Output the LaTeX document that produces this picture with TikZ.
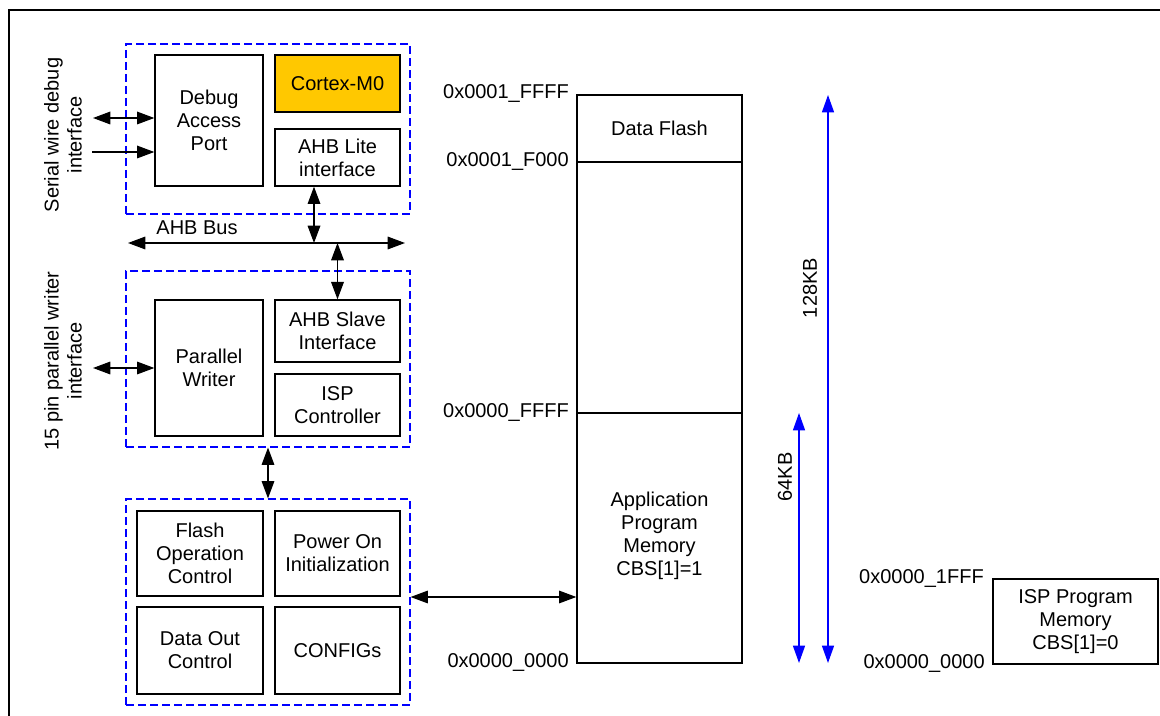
\documentclass[tikz,border=0pt]{standalone}
\usepackage{fontspec}
\setmainfont{Liberation Sans}
\usetikzlibrary{arrows.meta,calc}
\definecolor{cortexgold}{RGB}{255,200,0}
\definecolor{dashblue}{RGB}{0,0,255}
\begin{document}
\begin{tikzpicture}[x=0.75pt,y=-0.75pt,
  every node/.style={font=\fontsize{15}{17.25}\selectfont, align=center, inner sep=0pt},
  blk/.style={draw=black, line width=1pt},
  grp/.style={draw=dashblue, line width=0.9pt, dash pattern=on 6pt off 3pt},
  dbl/.style={line width=0.9pt, {Triangle[length=13pt,width=9.5pt]}-{Triangle[length=13pt,width=9.5pt]}},
  sgl/.style={line width=0.9pt, -{Triangle[length=13pt,width=9.5pt]}},
  bdbl/.style={dashblue, line width=1pt, {Triangle[length=13pt,width=9pt]}-{Triangle[length=13pt,width=9pt]}},
  lbl/.style={anchor=east}
]
\useasboundingbox (0,0) rectangle (1160,716);
% outer frame
\draw[line width=1.8pt] (9,717) -- (9,10) -- (1161,10);

% group 1
\node[grp, minimum width=0.75*284pt, minimum height=0.75*170pt] (g1) at (268,129) {};
\node[blk, minimum width=0.75*108pt, minimum height=0.75*131pt] (dap) at (209,120.5) {Debug\\Access\\Port};
\node[blk, fill=cortexgold, minimum width=0.75*125pt, minimum height=0.75*57pt] (cortex) at (337.5,83.5) {Cortex-M0};
\node[blk, minimum width=0.75*125pt, minimum height=0.75*57pt] (ahblite) at (337.5,157.5) {AHB Lite\\interface};

% group 2
\node[grp, minimum width=0.75*284pt, minimum height=0.75*176pt] (g2) at (268,359) {};
\node[blk, minimum width=0.75*108pt, minimum height=0.75*136pt] (pw) at (209,368) {Parallel\\Writer};
\node[blk, minimum width=0.75*125pt, minimum height=0.75*62pt] (ahbslave) at (337.5,331) {AHB Slave\\Interface};
\node[blk, minimum width=0.75*125pt, minimum height=0.75*62pt] (ispc) at (337.5,405) {ISP\\Controller};

% group 3
\node[grp, minimum width=0.75*284pt, minimum height=0.75*206pt] (g3) at (268,602) {};
\node[blk, minimum width=0.75*126pt, minimum height=0.75*85pt] (foc) at (200,553.5) {Flash\\Operation\\Control};
\node[blk, minimum width=0.75*125pt, minimum height=0.75*85pt] (poi) at (337.5,553.5) {Power On\\Initialization};
\node[blk, minimum width=0.75*126pt, minimum height=0.75*87pt] (doc) at (200,650.5) {Data Out\\Control};
\node[blk, minimum width=0.75*125pt, minimum height=0.75*87pt] (cfg) at (337.5,650.5) {CONFIGs};

% left interface labels
\node[rotate=90] (swdl) at (63,135) {Serial wire debug\\interface};
\node[rotate=90] (ppl) at (63,361) {15 pin parallel writer\\interface};
\coordinate (swd1) at (93,118);
\coordinate (swd2) at (92,152);
\coordinate (pwi) at (93,368);
\draw[dbl] (swd1) -- (swd1 -| dap.west);
\draw[sgl] (swd2) -- (swd2 -| dap.west);
\draw[dbl] (pwi) -- (pwi -| pw.west);

% AHB bus
\coordinate (busL) at (128,243);
\coordinate (busR) at (405,243);
\coordinate (busA) at (314,243);
\draw[dbl] (busL) -- (busR);
\node (ahbbus) at (197,228) {AHB Bus};
\draw[dbl] (busA) -- (busA |- ahblite.south);
\draw[dbl] (ahbslave.north |- busL) -- (ahbslave.north);
\draw[dbl] (g2.south) -- (g3.north);

% memory map
\node[blk, minimum width=0.75*165pt, minimum height=0.75*568pt] (mem) at (659.5,379) {};
\draw[line width=1pt] (mem.west |- 0,162) -- (mem.east |- 0,162);
\draw[line width=1pt] (mem.west |- 0,413) -- (mem.east |- 0,413);
\node (df) at (659.5,128) {Data Flash};
\node (apm) at (659.5,536) {Application\\Program\\Memory\\CBS[1]=1};
\node[lbl] (a1) at (569,94) {0x0001\_FFFF};
\node[lbl] (a2) at (569,162) {0x0001\_F000};
\node[lbl] (a3) at (569,413) {0x0000\_FFFF};
\node[lbl] (a4) at (569,663) {0x0000\_0000};
\draw[dbl] ([yshift=3.75pt]g3.east) -- ([yshift=3.75pt]g3.east -| mem.west);

% size arrows
\coordinate (k128t) at (828,95);
\coordinate (k128b) at (828,663);
\coordinate (k64t) at (799,413);
\coordinate (k64b) at (799,663);
\draw[bdbl] (k128b) -- (k128t);
\draw[bdbl] (k64b) -- (k64t);
\node[rotate=90] (l128) at (810,288) {128KB};
\node[rotate=90] (l64) at (785,477) {64KB};

% ISP program memory
\node[blk, minimum width=0.75*165pt, minimum height=0.75*85pt] (isppm) at (1075.5,621.5) {ISP Program\\Memory\\CBS[1]=0};
\node[lbl] (b1) at (984,579) {0x0000\_1FFF};
\node[lbl] (b2) at (985,664) {0x0000\_0000};
\end{tikzpicture}
\end{document}
